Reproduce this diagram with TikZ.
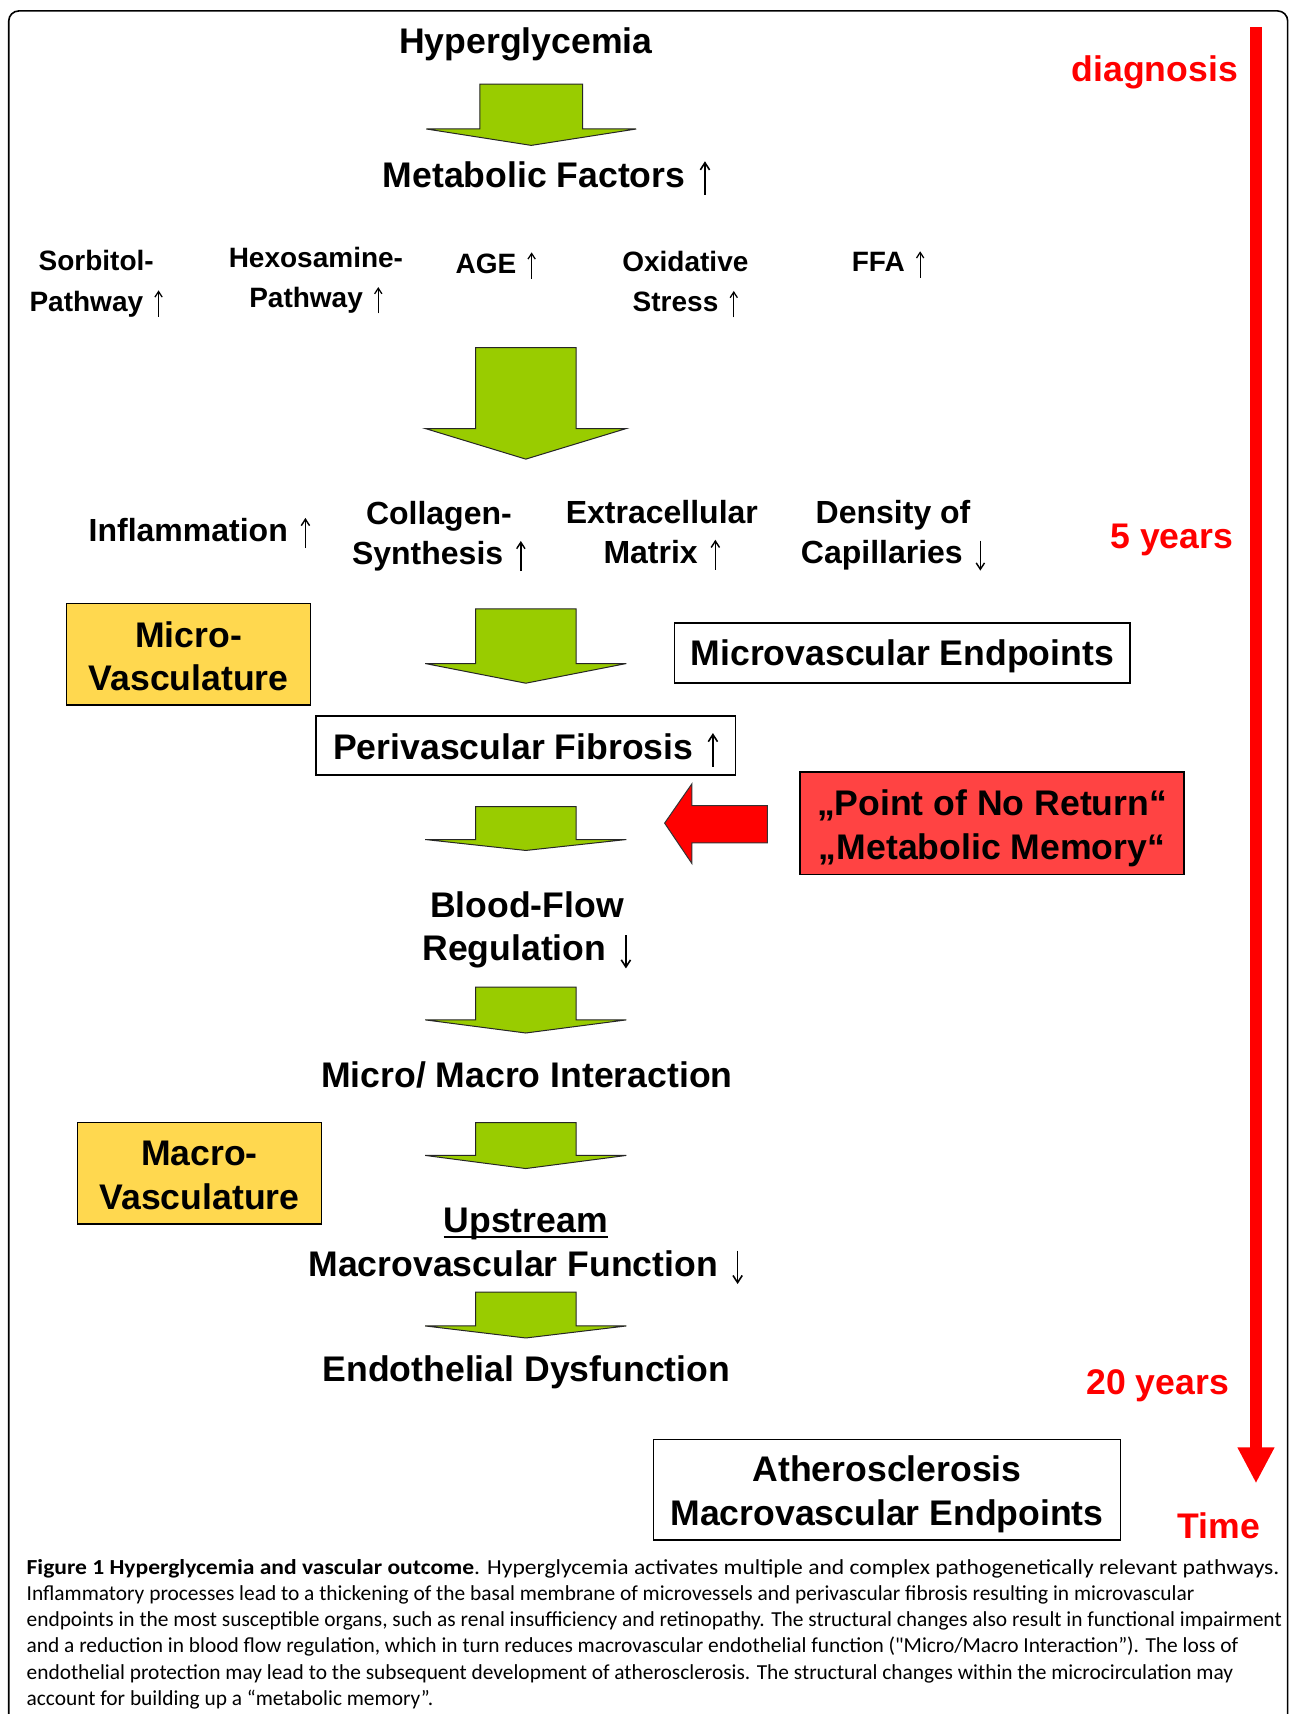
\documentclass[tikz,border=0pt]{standalone}
\usepackage{fontspec}
\setmainfont{Liberation Sans}
\newfontfamily\capfont{Carlito}
\usetikzlibrary{arrows.meta}
\definecolor{agreen}{HTML}{99CC00}
\definecolor{ayellow}{HTML}{FFD84F}
\definecolor{abox}{HTML}{FF4343}
\newcommand\arrU{\hspace{0.12em}\smash{\tikz[baseline=0pt]\draw[line width=0.045em,-{Straight Barb[length=0.2em,width=0.26em]}] (0,-0.2em) -- (0,0.74em);}}
\newcommand\arrD{\hspace{0.12em}\smash{\tikz[baseline=0pt]\draw[line width=0.045em,-{Straight Barb[length=0.2em,width=0.26em]}] (0,0.72em) -- (0,-0.22em);}}
\newsavebox\ulbox
\newcommand\myul[1]{\sbox\ulbox{#1}\rlap{\rule[-0.16em]{\wd\ulbox}{0.06em}}\usebox\ulbox}
% green block arrow: name, center x, top, shaft bottom, tip, shaft half, head half
\newcommand\garrow[7]{%
  \coordinate (#1) at (#2,#3);
  \draw[garrowst] (#2-#6,#3) -- (#2+#6,#3) -- (#2+#6,#4) -- (#2+#7,#4) -- (#2,#5)
     -- (#2-#7,#4) -- (#2-#6,#4) -- cycle;}
\begin{document}
\begin{tikzpicture}[x=0.5466pt,y=-0.5466pt,
  lbl/.style={font=\bfseries\fontsize{17.8}{21.8}\selectfont, align=center, inner sep=0pt},
  sml/.style={font=\bfseries\fontsize{14}{20.2}\selectfont, align=center, inner sep=0pt},
  mid/.style={font=\bfseries\fontsize{16}{20.2}\selectfont, align=center, inner sep=0pt},
  redlbl/.style={lbl, text=red},
  tbox/.style={draw=black, line width=0.8pt, inner sep=0pt},
  garrowst/.style={fill=agreen, draw=black!85, line width=0.5pt, line join=miter},
  capst/.style={font=\capfont\fontsize{10.7}{13.1}\selectfont, anchor=base west, inner sep=0pt}
]
\path[use as bounding box] (0,0) rectangle (1180,1568);
\fill[white] (0,0) rectangle (1180,1568);
\draw[line width=0.8pt, rounded corners=5pt] (8,10) rectangle (1178,1640);

% time axis
\coordinate (tstart) at (1149,25);
\coordinate (tend) at (1149,1357);
\draw[red, line width=6pt, -{Triangle[width=17.2pt,length=18pt]}] (tstart) -- (tend);
\node[redlbl] (diag) at (1056.5,66) {diagnosis};
\node[redlbl] (y5) at (1072,494) {5 years};
\node[redlbl] (y20) at (1059,1268) {20 years};
\node[redlbl] (time) at (1115,1396) {Time};

% main column
\node[lbl] (hyper) at (481,41) {Hyperglycemia};
\garrow{a1}{486}{77}{118}{133}{47}{96}
\node[lbl] (meta) at (500,160) {Metabolic Factors \arrU};

\node[sml] (sorb) at (88,259.5) {Sorbitol-\\Pathway \arrU};
\node[sml] (hexo) at (289,256.5) {Hexosamine-\\Pathway \arrU};
\node[sml] (age) at (453.5,241) {AGE \arrU};
\node[sml] (oxi) at (627,257.5) {Oxidative\\Stress \arrU};
\node[sml] (ffa) at (812.5,240) {FFA \arrU};

\garrow{a2}{481}{318}{392}{420}{46}{92}

\node[mid] (infl) at (182.5,485) {Inflammation \arrU};
\node[mid] (coll) at (401.5,490.5) {Collagen-\\Synthesis \arrU};
\node[mid] (ecm) at (605.5,486.5) {Extracellular\\Matrix \arrU};
\node[mid] (dens) at (817,489.5) {Density of\\Capillaries \arrD};

\node[tbox, fill=ayellow, minimum width=121.9pt, minimum height=50.8pt,
  label={[lbl, yshift=-1.1pt]center:{Micro-\\Vasculature}}] (micro) at (172.5,598.5) {};
\garrow{a3}{481}{557}{607}{625}{46}{92}
\node[tbox, fill=white, minimum width=227.9pt, minimum height=30.1pt,
  label={[lbl, yshift=-1.6pt]center:{Microvascular Endpoints}}] (mvend) at (825.5,597.5) {};

\node[tbox, fill=white, minimum width=209.9pt, minimum height=29.5pt,
  label={[lbl, yshift=-0.6pt]center:{Perivascular Fibrosis \arrU}}] (peri) at (481,682) {};

\garrow{a4}{481}{738}{768}{778}{46}{92}
\node[tbox, fill=abox, minimum width=191.9pt, minimum height=51.4pt,
  label={[lbl, yshift=-2.5pt]center:{„Point of No Return“\\„Metabolic Memory“}}] (pnr) at (907.5,753) {};
\draw[fill=red, draw=black!80, line width=0.5pt] (608,753) -- (633,717) -- (633,737) -- (702,737) -- (702,771) -- (633,771) -- (633,790) -- cycle;

\node[lbl] (blood) at (482,850.5) {Blood-Flow\\Regulation \arrD};
\garrow{a5}{481}{903}{933}{945}{46}{92}
\node[lbl] (mmi) at (482,983) {Micro/ Macro Interaction};

\node[tbox, fill=ayellow, minimum width=121.9pt, minimum height=50.8pt,
  label={[lbl, yshift=-1.1pt]center:{Macro-\\Vasculature}}] (macro) at (182.5,1073.5) {};
\garrow{a6}{481}{1027}{1057}{1069}{46}{92}
\node[lbl] (up) at (481,1136.5) {\myul{Upstream}\\Macrovascular Function \arrD};
\garrow{a7}{481}{1182}{1213}{1224}{46}{92}
\node[lbl] (endo) at (481.5,1255) {Endothelial Dysfunction};

\node[tbox, fill=white, minimum width=233.4pt, minimum height=50.3pt,
  label={[lbl, yshift=-2.2pt]center:{Atherosclerosis\\Macrovascular Endpoints}}] (ather) at (811.5,1363) {};

% caption
\node[capst] (c1) at (24,1440) {\resizebox{626.4pt}{\height}{\textbf{Figure 1 Hyperglycemia and vascular outcome}. Hyperglycemia activates multiple and complex pathogenetically relevant pathways.}};
\node[capst] (c2) at (24,1464) {Inflammatory processes lead to a thickening of the basal membrane of microvessels and perivascular fibrosis resulting in microvascular};
\node[capst] (c3) at (24,1488) {endpoints in the most susceptible organs, such as renal insufficiency and retinopathy. The structural changes also result in functional impairment};
\node[capst] (c4) at (24,1512) {and a reduction in blood flow regulation, which in turn reduces macrovascular endothelial function ("Micro/Macro Interaction”). The loss of};
\node[capst] (c5) at (24,1536) {endothelial protection may lead to the subsequent development of atherosclerosis. The structural changes within the microcirculation may};
\node[capst] (c6) at (24,1560) {account for building up a “metabolic memory”.};
\end{tikzpicture}
\end{document}
